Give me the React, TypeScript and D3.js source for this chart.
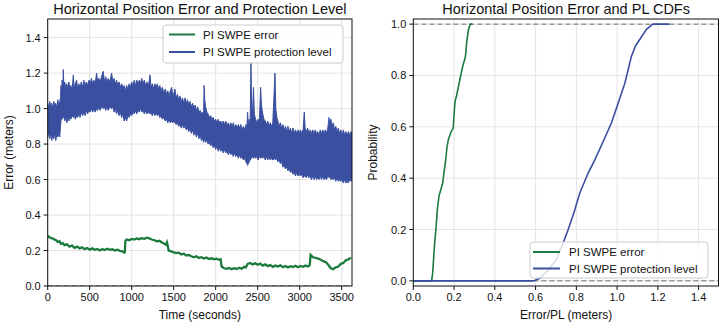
import React from "react";
import * as d3 from "d3";

// ---------- Data ----------
const seriesNames = ["PI SWPE error", "PI SWPE protection level"];

// Horizontal error time series: [time (s), error (m)]
const errorSeries: [number, number][] = [
  [0, 0.285], [20, 0.275], [40, 0.27], [60, 0.268], [80, 0.262], [100, 0.258], [120, 0.248], [140, 0.252],
  [160, 0.238], [180, 0.242], [200, 0.23], [230, 0.235], [260, 0.222], [290, 0.228], [320, 0.215], [350, 0.222],
  [380, 0.212], [410, 0.218], [440, 0.208], [470, 0.214], [500, 0.205], [530, 0.212], [560, 0.204], [590, 0.209],
  [620, 0.2], [650, 0.208], [680, 0.203], [710, 0.21], [740, 0.204], [770, 0.207], [800, 0.2], [830, 0.205],
  [860, 0.198], [890, 0.195], [910, 0.188], [918, 0.19], [925, 0.255], [940, 0.262], [970, 0.258], [1000, 0.265],
  [1030, 0.262], [1060, 0.268], [1090, 0.264], [1120, 0.27], [1150, 0.266], [1180, 0.272], [1210, 0.268],
  [1240, 0.262], [1270, 0.258], [1300, 0.252], [1330, 0.255], [1360, 0.245], [1390, 0.238], [1410, 0.232],
  [1420, 0.245], [1430, 0.225], [1440, 0.2], [1470, 0.195], [1500, 0.19], [1530, 0.185], [1560, 0.188],
  [1590, 0.178], [1620, 0.182], [1650, 0.172], [1680, 0.175], [1710, 0.168], [1740, 0.162], [1770, 0.168],
  [1800, 0.158], [1830, 0.162], [1860, 0.155], [1890, 0.16], [1920, 0.152], [1950, 0.156], [1980, 0.15],
  [2010, 0.154], [2040, 0.148], [2060, 0.15], [2070, 0.11], [2100, 0.1], [2130, 0.097], [2160, 0.102],
  [2190, 0.094], [2220, 0.1], [2250, 0.096], [2280, 0.103], [2310, 0.098], [2340, 0.108], [2360, 0.105],
  [2380, 0.125], [2410, 0.13], [2440, 0.122], [2470, 0.128], [2500, 0.12], [2530, 0.126], [2560, 0.115],
  [2590, 0.122], [2620, 0.112], [2650, 0.118], [2680, 0.108], [2710, 0.115], [2740, 0.11], [2770, 0.116],
  [2800, 0.106], [2830, 0.113], [2860, 0.105], [2890, 0.112], [2920, 0.107], [2950, 0.114], [2980, 0.106],
  [3010, 0.113], [3040, 0.108], [3070, 0.115], [3100, 0.11], [3120, 0.118], [3130, 0.175], [3160, 0.162],
  [3190, 0.158], [3220, 0.155], [3250, 0.148], [3280, 0.14], [3310, 0.135], [3340, 0.12], [3370, 0.1],
  [3400, 0.095], [3430, 0.105], [3460, 0.11], [3490, 0.125], [3520, 0.13], [3550, 0.145], [3580, 0.15],
  [3610, 0.16],
];

// Protection level band: [time (s), lower envelope, upper envelope]
const plSeries: [number, number, number][] = [
  [0, 0.84, 1.03], [12, 0.87, 1.0], [24, 0.83, 1.04], [36, 0.86, 1.01], [48, 0.82, 1.03], [60, 0.85, 1.0],
  [72, 0.83, 1.04], [84, 0.86, 1.02], [96, 0.82, 1.03], [108, 0.85, 1.0], [120, 0.84, 1.05], [132, 0.86, 1.02],
  [144, 0.84, 1.04], [152, 0.9, 1.06], [158, 0.93, 1.13], [166, 0.96, 1.1], [172, 0.94, 1.16], [180, 0.96, 1.12],
  [186, 0.95, 1.22], [192, 0.96, 1.13], [204, 0.93, 1.15], [216, 0.96, 1.1], [228, 0.92, 1.14], [240, 0.95, 1.11],
  [252, 0.93, 1.15], [264, 0.96, 1.11], [276, 0.94, 1.13], [290, 0.96, 1.1], [305, 0.95, 1.19], [315, 0.97, 1.11],
  [328, 0.94, 1.14], [345, 0.96, 1.16], [355, 0.95, 1.11], [370, 0.97, 1.14], [385, 0.95, 1.12], [400, 0.98, 1.15],
  [415, 0.96, 1.12], [430, 0.98, 1.16], [445, 0.96, 1.13], [460, 0.99, 1.15], [475, 0.97, 1.13], [490, 0.99, 1.16],
  [505, 0.98, 1.14], [520, 1.0, 1.17], [535, 0.98, 1.14], [550, 1.0, 1.16], [565, 0.98, 1.14], [582, 1.0, 1.2],
  [595, 0.99, 1.15], [610, 1.01, 1.17], [625, 0.99, 1.15], [640, 1.01, 1.18], [662, 1.0, 1.21], [675, 1.01, 1.15],
  [690, 0.99, 1.18], [705, 1.01, 1.15], [720, 0.99, 1.17], [740, 1.01, 1.15], [761, 1.0, 1.2], [775, 1.01, 1.15],
  [790, 0.98, 1.17], [805, 1.0, 1.14], [820, 0.97, 1.16], [835, 0.99, 1.13], [850, 0.96, 1.15], [865, 0.98, 1.12],
  [880, 0.95, 1.14], [895, 0.97, 1.12], [910, 0.93, 1.13], [925, 0.95, 1.1], [940, 0.93, 1.13], [955, 0.96, 1.11],
  [970, 0.95, 1.14], [985, 0.97, 1.12], [1000, 0.96, 1.15], [1015, 0.98, 1.13], [1030, 0.97, 1.16],
  [1045, 0.99, 1.13], [1060, 0.97, 1.16], [1075, 0.99, 1.14], [1090, 0.98, 1.16], [1105, 1.0, 1.14],
  [1120, 0.98, 1.17], [1135, 0.99, 1.14], [1150, 0.97, 1.16], [1165, 0.99, 1.13], [1180, 0.97, 1.15],
  [1200, 0.98, 1.13], [1218, 0.97, 1.19], [1230, 0.98, 1.12], [1245, 0.96, 1.14], [1260, 0.98, 1.11],
  [1275, 0.96, 1.14], [1290, 0.98, 1.12], [1305, 0.96, 1.14], [1320, 0.97, 1.11], [1335, 0.95, 1.13],
  [1350, 0.96, 1.1], [1365, 0.94, 1.12], [1380, 0.95, 1.09], [1400, 0.93, 1.11], [1415, 0.94, 1.08],
  [1430, 0.92, 1.1], [1445, 0.94, 1.07], [1460, 0.92, 1.1], [1476, 0.93, 1.12], [1490, 0.92, 1.07],
  [1505, 0.93, 1.09], [1515, 0.92, 1.11], [1530, 0.91, 1.06], [1545, 0.92, 1.08], [1560, 0.9, 1.05],
  [1575, 0.91, 1.07], [1590, 0.89, 1.04], [1605, 0.91, 1.06], [1620, 0.89, 1.03], [1635, 0.9, 1.06],
  [1650, 0.88, 1.03], [1665, 0.89, 1.05], [1680, 0.87, 1.02], [1695, 0.89, 1.04], [1710, 0.86, 1.01],
  [1725, 0.88, 1.03], [1740, 0.85, 1.0], [1755, 0.87, 1.02], [1770, 0.84, 0.99], [1785, 0.86, 1.01],
  [1800, 0.83, 0.98], [1815, 0.85, 0.99], [1830, 0.82, 0.97], [1845, 0.83, 0.98], [1856, 0.81, 0.96],
  [1862, 0.82, 1.13], [1870, 0.83, 1.05], [1880, 0.81, 1.01], [1895, 0.82, 0.98], [1910, 0.8, 0.97],
  [1925, 0.81, 0.95], [1940, 0.79, 0.96], [1955, 0.8, 0.94], [1970, 0.78, 0.95], [1985, 0.79, 0.93],
  [2000, 0.77, 0.94], [2015, 0.79, 0.92], [2030, 0.76, 0.94], [2045, 0.78, 0.92], [2060, 0.76, 0.93],
  [2075, 0.77, 0.91], [2090, 0.75, 0.93], [2105, 0.77, 0.91], [2120, 0.75, 0.93], [2135, 0.76, 0.9],
  [2150, 0.74, 0.92], [2165, 0.76, 0.9], [2180, 0.74, 0.92], [2195, 0.75, 0.9], [2210, 0.73, 0.92],
  [2225, 0.75, 0.89], [2240, 0.73, 0.91], [2255, 0.74, 0.89], [2270, 0.72, 0.91], [2285, 0.74, 0.89],
  [2300, 0.72, 0.91], [2315, 0.73, 0.88], [2330, 0.71, 0.9], [2345, 0.72, 0.88], [2360, 0.7, 0.91],
  [2372, 0.69, 0.89], [2380, 0.68, 0.98], [2390, 0.69, 0.9], [2400, 0.7, 0.94], [2410, 0.71, 0.91],
  [2420, 0.72, 1.255], [2428, 0.72, 1.0], [2438, 0.73, 0.97], [2450, 0.72, 1.12], [2460, 0.73, 0.97],
  [2475, 0.72, 0.94], [2490, 0.73, 0.92], [2505, 0.71, 0.94], [2520, 0.73, 0.92], [2535, 0.72, 1.12],
  [2545, 0.73, 1.02], [2560, 0.72, 0.97], [2575, 0.73, 0.94], [2590, 0.71, 0.93], [2605, 0.73, 0.91],
  [2620, 0.71, 0.93], [2635, 0.73, 0.9], [2650, 0.71, 0.92], [2665, 0.72, 0.9], [2680, 0.71, 0.92],
  [2706, 0.72, 1.2], [2716, 0.71, 1.0], [2728, 0.72, 0.95], [2740, 0.7, 0.93], [2755, 0.71, 0.9],
  [2770, 0.69, 0.92], [2785, 0.7, 0.89], [2800, 0.67, 0.91], [2815, 0.68, 0.88], [2830, 0.66, 0.9],
  [2845, 0.67, 0.87], [2860, 0.65, 0.9], [2875, 0.66, 0.87], [2890, 0.64, 0.89], [2905, 0.65, 0.86],
  [2920, 0.63, 0.89], [2935, 0.64, 0.86], [2950, 0.62, 0.88], [2965, 0.64, 0.86], [2980, 0.62, 0.88],
  [2995, 0.63, 0.86], [3010, 0.62, 0.88], [3025, 0.63, 0.86], [3040, 0.61, 0.88], [3055, 0.62, 0.98],
  [3065, 0.62, 0.89], [3080, 0.61, 0.87], [3095, 0.63, 0.89], [3110, 0.61, 0.86], [3125, 0.62, 0.88],
  [3140, 0.6, 0.86], [3155, 0.62, 0.88], [3170, 0.6, 0.86], [3185, 0.62, 0.88], [3200, 0.6, 0.86],
  [3215, 0.61, 0.87], [3230, 0.6, 0.85], [3245, 0.62, 0.88], [3260, 0.6, 0.86], [3275, 0.62, 0.88],
  [3290, 0.6, 0.86], [3305, 0.61, 0.88], [3320, 0.6, 0.86], [3335, 0.62, 0.89], [3350, 0.61, 0.95],
  [3360, 0.62, 0.91], [3372, 0.6, 0.94], [3385, 0.61, 0.9], [3400, 0.6, 0.92], [3415, 0.61, 0.88],
  [3430, 0.59, 0.9], [3445, 0.61, 0.87], [3460, 0.59, 0.89], [3475, 0.6, 0.86], [3490, 0.59, 0.88],
  [3505, 0.6, 0.85], [3520, 0.58, 0.88], [3535, 0.6, 0.85], [3550, 0.58, 0.87], [3565, 0.59, 0.85],
  [3580, 0.58, 0.87], [3595, 0.6, 0.85], [3610, 0.59, 0.87], [3623, 0.61, 0.86],
];

// CDFs: [value (m), probability]
const errorCdf: [number, number][] = [
  [0, 0], [0.09, 0], [0.095, 0.03], [0.105, 0.15], [0.111, 0.2], [0.118, 0.28], [0.126, 0.33], [0.135, 0.355],
  [0.144, 0.38], [0.152, 0.43], [0.159, 0.47], [0.165, 0.52], [0.172, 0.55], [0.185, 0.58], [0.196, 0.595],
  [0.2, 0.65], [0.205, 0.7], [0.212, 0.72], [0.225, 0.77], [0.242, 0.835], [0.255, 0.87], [0.258, 0.89],
  [0.262, 0.93], [0.271, 0.98], [0.28, 1.0], [0.29, 1.0],
];
const plCdf: [number, number][] = [
  [0, 0], [0.59, 0], [0.62, 0.01], [0.66, 0.04], [0.7, 0.08], [0.735, 0.147], [0.76, 0.2], [0.79, 0.27],
  [0.817, 0.342], [0.858, 0.42], [0.89, 0.47], [0.93, 0.54], [0.972, 0.615], [1.0, 0.68], [1.038, 0.77],
  [1.07, 0.874], [1.09, 0.915], [1.111, 0.94], [1.144, 0.98], [1.176, 1.0], [1.258, 1.0],
];

const timeTicks = [0, 500, 1000, 1500, 2000, 2500, 3000, 3500];
const errTicks = [0, 0.2, 0.4, 0.6, 0.8, 1.0, 1.2, 1.4];
const cdfXTicks = [0, 0.2, 0.4, 0.6, 0.8, 1.0, 1.2, 1.4];
const probTicks = [0, 0.2, 0.4, 0.6, 0.8, 1.0];

const GREEN = "#1b7a3e";
const BLUE = "#3a4fa0";
const FONT = "'Liberation Sans', Arial, Helvetica, sans-serif";

export default function App() {
  // Left panel
  const L = { x0: 47.7, x1: 352, y0: 19, y1: 286 };
  const xT = d3.scaleLinear().domain([0, 3623]).range([L.x0, L.x1]);
  const yE = d3.scaleLinear().domain([0, 1.505]).range([L.y1, L.y0]);
  // Right panel
  const R = { x0: 413.3, x1: 719, y0: 19, y1: 286 };
  const xC = d3.scaleLinear().domain([0, 1.5]).range([R.x0, R.x1]);
  const yP = d3.scaleLinear().domain([-0.02, 1.02]).range([R.y1, R.y0]);

  const errLine = d3.line<[number, number]>().x((d) => xT(d[0])).y((d) => yE(d[1]));
  const plArea = d3
    .area<[number, number, number]>()
    .x((d) => xT(d[0]))
    .y0((d) => yE(d[1]))
    .y1((d) => yE(d[2]));
  const cdfLine = d3.line<[number, number]>().x((d) => xC(d[0])).y((d) => yP(d[1]));

  const tickFs = 11;
  const labelFs = 12;
  const titleFs = 14.5;
  const legendFs = 11.5;
  const grid = "#e3e3e3";

  return (
    <svg
      width={720}
      height={325}
      style={{ position: "absolute", left: 0, top: 0, background: "#fff" }}
      fontFamily={FONT}
    >
      <defs>
        <clipPath id="clipL">
          <rect x={L.x0} y={L.y0} width={L.x1 - L.x0} height={L.y1 - L.y0} />
        </clipPath>
        <clipPath id="clipR">
          <rect x={R.x0} y={R.y0} width={R.x1 - R.x0} height={R.y1 - R.y0} />
        </clipPath>
      </defs>

      {/* ---------- LEFT PANEL ---------- */}
      <text x={(L.x0 + L.x1) / 2} y={14} textAnchor="middle" fontSize={titleFs} fill="#111">
        Horizontal Position Error and Protection Level
      </text>
      {timeTicks.map((t) => (
        <line key={"gx" + t} x1={xT(t)} x2={xT(t)} y1={L.y0} y2={L.y1} stroke={grid} strokeWidth={1} />
      ))}
      {errTicks.map((v) => (
        <line key={"gy" + v} x1={L.x0} x2={L.x1} y1={yE(v)} y2={yE(v)} stroke={grid} strokeWidth={1} />
      ))}
      <g clipPath="url(#clipL)">
        <path d={plArea(plSeries) || ""} fill={BLUE} stroke={BLUE} strokeWidth={1} strokeLinejoin="miter" />
        <path d={errLine(errorSeries) || ""} fill="none" stroke={GREEN} strokeWidth={2.3} />
        <line x1={L.x0} x2={L.x1} y1={yE(0)} y2={yE(0)} stroke="#888" strokeWidth={1.5} strokeDasharray="5,3" />
      </g>
      <rect x={L.x0} y={L.y0} width={L.x1 - L.x0} height={L.y1 - L.y0} fill="none" stroke="#111" strokeWidth={1} />
      {timeTicks.map((t) => (
        <g key={"tx" + t}>
          <line x1={xT(t)} x2={xT(t)} y1={L.y1} y2={L.y1 + 4} stroke="#111" />
          <text x={xT(t)} y={L.y1 + 15} textAnchor="middle" fontSize={tickFs} fill="#111">
            {d3.format("d")(t)}
          </text>
        </g>
      ))}
      {errTicks.map((v) => (
        <g key={"ty" + v}>
          <line x1={L.x0 - 4} x2={L.x0} y1={yE(v)} y2={yE(v)} stroke="#111" />
          <text x={L.x0 - 7} y={yE(v) + 4} textAnchor="end" fontSize={tickFs} fill="#111">
            {d3.format(".1f")(v)}
          </text>
        </g>
      ))}
      <text x={(L.x0 + L.x1) / 2} y={319} textAnchor="middle" fontSize={labelFs} fill="#111">
        Time (seconds)
      </text>
      <text
        transform={`translate(13,${(L.y0 + L.y1) / 2}) rotate(-90)`}
        textAnchor="middle"
        fontSize={labelFs}
        fill="#111"
      >
        Error (meters)
      </text>
      {/* legend left */}
      <g>
        <rect x={163} y={25} width={180} height={38} rx={3} fill="#fff" fillOpacity={0.85} stroke="#ccc" />
        <line x1={169} x2={195} y1={34.5} y2={34.5} stroke={GREEN} strokeWidth={2} />
        <text x={203} y={38.5} fontSize={legendFs} fill="#111">{seriesNames[0]}</text>
        <line x1={169} x2={195} y1={52} y2={52} stroke={BLUE} strokeWidth={2} />
        <text x={203} y={56} fontSize={legendFs} fill="#111">{seriesNames[1]}</text>
      </g>

      {/* ---------- RIGHT PANEL ---------- */}
      <text x={(R.x0 + R.x1) / 2} y={14} textAnchor="middle" fontSize={titleFs} fill="#111">
        Horizontal Position Error and PL CDFs
      </text>
      {cdfXTicks.map((v) => (
        <line key={"rgx" + v} x1={xC(v)} x2={xC(v)} y1={R.y0} y2={R.y1} stroke={grid} strokeWidth={1} />
      ))}
      {probTicks.map((v) => (
        <line key={"rgy" + v} x1={R.x0} x2={R.x1} y1={yP(v)} y2={yP(v)} stroke={grid} strokeWidth={1} />
      ))}
      <g clipPath="url(#clipR)">
        <line x1={R.x0} x2={R.x1} y1={yP(0)} y2={yP(0)} stroke="#999" strokeWidth={1.5} strokeDasharray="5,3" />
        <line x1={R.x0} x2={R.x1} y1={yP(1)} y2={yP(1)} stroke="#999" strokeWidth={1.5} strokeDasharray="5,3" />
        <path d={cdfLine(errorCdf) || ""} fill="none" stroke={GREEN} strokeWidth={1.6} />
        <path d={cdfLine(plCdf) || ""} fill="none" stroke={BLUE} strokeWidth={1.6} />
      </g>
      <rect x={R.x0} y={R.y0} width={R.x1 - R.x0 - 0.5} height={R.y1 - R.y0} fill="none" stroke="#111" strokeWidth={1} />
      {cdfXTicks.map((v) => (
        <g key={"rtx" + v}>
          <line x1={xC(v)} x2={xC(v)} y1={R.y1} y2={R.y1 + 4} stroke="#111" />
          <text x={xC(v)} y={R.y1 + 15} textAnchor="middle" fontSize={tickFs} fill="#111">
            {d3.format(".1f")(v)}
          </text>
        </g>
      ))}
      {probTicks.map((v) => (
        <g key={"rty" + v}>
          <line x1={R.x0 - 4} x2={R.x0} y1={yP(v)} y2={yP(v)} stroke="#111" />
          <text x={R.x0 - 7} y={yP(v) + 4} textAnchor="end" fontSize={tickFs} fill="#111">
            {d3.format(".1f")(v)}
          </text>
        </g>
      ))}
      <text x={(R.x0 + R.x1) / 2} y={319} textAnchor="middle" fontSize={labelFs} fill="#111">
        Error/PL (meters)
      </text>
      <text
        transform={`translate(377,${(R.y0 + R.y1) / 2}) rotate(-90)`}
        textAnchor="middle"
        fontSize={labelFs}
        fill="#111"
      >
        Probability
      </text>
      {/* legend right */}
      <g>
        <rect x={530} y={242} width={178} height={36} rx={3} fill="#fff" fillOpacity={0.8} stroke="#ccc" />
        <line x1={533} x2={560} y1={252} y2={252} stroke={GREEN} strokeWidth={2} />
        <text x={569} y={256} fontSize={legendFs} fill="#111">{seriesNames[0]}</text>
        <line x1={533} x2={560} y1={268.5} y2={268.5} stroke={BLUE} strokeWidth={2} />
        <text x={569} y={272.5} fontSize={legendFs} fill="#111">{seriesNames[1]}</text>
      </g>
    </svg>
  );
}
